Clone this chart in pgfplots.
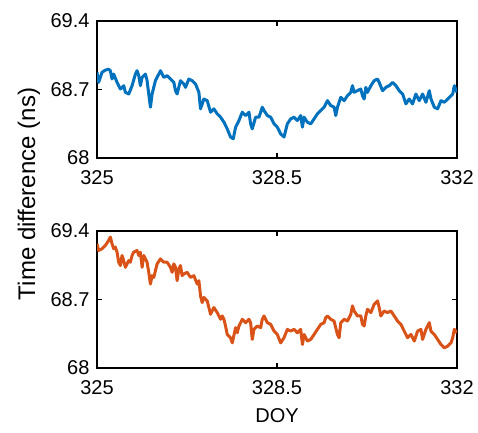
\documentclass[border=0pt]{standalone}
\usepackage{fontspec}
\setmainfont{Liberation Sans}
\usepackage{pgfplots}
\pgfplotsset{compat=1.18}
\definecolor{mblue}{RGB}{0,114,189}
\definecolor{morange}{RGB}{217,83,25}
\pgfplotsset{
  myax/.style={
    scale only axis, width=360pt, height=137pt,
    xmin=325, xmax=332, ymin=68, ymax=69.4,
    xtick={325,328.5,332}, ytick={68,68.7,69.4},
    xticklabels={325,328.5,332}, yticklabels={68,68.7,69.4},
    tick align=inside, major tick length=5pt,
    tick style={black, line width=1.3pt},
    axis line style={black, line width=1.6pt},
    ticklabel style={font=\fontsize{20}{24}\selectfont},
    /pgf/number format/assume math mode=true,
    xticklabel shift=9pt,
    yticklabel shift=4pt,
    clip=true,
  }
}
\begin{document}
\begin{tikzpicture}
\path[use as bounding box] (0,0) rectangle (478pt,432pt);
\begin{axis}[myax, at={(97pt,274pt)}, anchor=south west]
\addplot[mblue, line width=3pt, line join=round] coordinates {
(325.000,68.875)(325.032,68.773)(325.097,68.875)(325.162,68.898)(325.227,68.908)(325.260,68.892)(325.292,68.807)(325.325,68.858)(325.390,68.773)(325.455,68.705)(325.519,68.739)(325.552,68.671)(325.617,68.654)(325.682,68.739)(325.747,68.858)(325.779,68.892)(325.812,68.841)(325.844,68.739)(325.877,68.824)(325.942,68.858)(325.974,68.790)(326.006,68.654)(326.039,68.519)(326.071,68.654)(326.136,68.790)(326.234,68.892)(326.299,68.824)(326.364,68.841)(326.429,68.807)(326.494,68.773)(326.526,68.688)(326.558,68.654)(326.623,68.790)(326.688,68.756)(326.721,68.722)(326.786,68.807)(326.851,68.790)(326.916,68.756)(326.981,68.671)(327.013,68.502)(327.078,68.603)(327.143,68.586)(327.208,68.468)(327.273,68.502)(327.338,68.451)(327.403,68.417)(327.468,68.366)(327.532,68.298)(327.597,68.214)(327.649,68.197)(327.695,68.315)(327.760,68.383)(327.825,68.468)(327.890,68.434)(327.955,68.468)(327.987,68.349)(328.019,68.298)(328.084,68.417)(328.149,68.417)(328.214,68.519)(328.247,68.485)(328.312,68.434)(328.377,68.417)(328.442,68.349)(328.506,68.315)(328.571,68.247)(328.636,68.214)(328.701,68.349)(328.766,68.400)(328.831,68.417)(328.896,68.383)(328.961,68.434)(328.994,68.315)(329.026,68.417)(329.091,68.366)(329.156,68.349)(329.221,68.400)(329.286,68.451)(329.351,68.485)(329.416,68.519)(329.481,68.586)(329.545,68.536)(329.610,68.519)(329.643,68.434)(329.675,68.519)(329.740,68.620)(329.805,68.586)(329.870,68.637)(329.935,68.671)(329.968,68.739)(330.000,68.671)(330.065,68.688)(330.130,68.705)(330.162,68.637)(330.195,68.603)(330.227,68.722)(330.260,68.671)(330.325,68.739)(330.390,68.790)(330.455,68.807)(330.487,68.773)(330.552,68.688)(330.617,68.722)(330.682,68.739)(330.747,68.773)(330.812,68.739)(330.877,68.688)(330.942,68.654)(331.006,68.553)(331.071,68.603)(331.136,68.553)(331.201,68.654)(331.266,68.586)(331.331,68.654)(331.396,68.569)(331.461,68.688)(331.494,68.603)(331.558,68.519)(331.623,68.502)(331.688,68.586)(331.753,68.569)(331.818,68.603)(331.916,68.654)(331.948,68.739)(332.000,68.671)
};
\end{axis}
\begin{axis}[myax, at={(97pt,64pt)}, anchor=south west]
\addplot[morange, line width=3pt, line join=round] coordinates {
(325.000,69.270)(325.032,69.201)(325.097,69.218)(325.162,69.252)(325.227,69.304)(325.260,69.338)(325.292,69.270)(325.325,69.218)(325.357,69.235)(325.390,69.184)(325.422,69.081)(325.455,69.047)(325.487,69.150)(325.519,69.098)(325.552,69.029)(325.617,69.098)(325.649,69.081)(325.682,69.150)(325.714,69.184)(325.779,69.201)(325.812,69.150)(325.844,69.184)(325.877,69.029)(325.909,69.150)(325.942,69.115)(325.974,69.081)(326.006,68.978)(326.039,68.858)(326.071,68.944)(326.104,68.926)(326.169,69.064)(326.234,69.115)(326.299,69.081)(326.364,69.081)(326.429,69.029)(326.461,68.978)(326.494,69.064)(326.526,69.029)(326.558,68.892)(326.591,69.012)(326.623,69.047)(326.656,68.944)(326.688,68.961)(326.753,68.978)(326.818,68.926)(326.883,68.944)(326.948,68.858)(326.981,68.892)(327.013,68.738)(327.045,68.669)(327.078,68.721)(327.143,68.686)(327.208,68.549)(327.273,68.618)(327.338,68.566)(327.403,68.498)(327.435,68.532)(327.468,68.498)(327.500,68.429)(327.532,68.343)(327.597,68.309)(327.630,68.257)(327.695,68.412)(327.727,68.360)(327.760,68.429)(327.825,68.498)(327.890,68.463)(327.955,68.498)(327.987,68.463)(328.019,68.292)(328.052,68.395)(328.117,68.429)(328.182,68.412)(328.214,68.498)(328.247,68.532)(328.312,68.463)(328.377,68.446)(328.442,68.377)(328.506,68.343)(328.571,68.257)(328.636,68.309)(328.701,68.395)(328.766,68.377)(328.831,68.395)(328.896,68.360)(328.961,68.395)(328.994,68.240)(329.026,68.343)(329.091,68.275)(329.156,68.292)(329.221,68.343)(329.286,68.395)(329.351,68.446)(329.416,68.463)(329.448,68.515)(329.481,68.532)(329.545,68.498)(329.610,68.480)(329.675,68.343)(329.708,68.309)(329.740,68.463)(329.805,68.498)(329.870,68.480)(329.935,68.549)(329.968,68.635)(330.000,68.583)(330.065,68.532)(330.130,68.532)(330.162,68.446)(330.195,68.429)(330.227,68.532)(330.260,68.600)(330.325,68.566)(330.390,68.652)(330.455,68.686)(330.487,68.618)(330.519,68.532)(330.584,68.583)(330.649,68.566)(330.714,68.583)(330.779,68.532)(330.844,68.480)(330.909,68.446)(330.974,68.377)(331.039,68.309)(331.104,68.343)(331.169,68.275)(331.234,68.377)(331.299,68.395)(331.331,68.292)(331.396,68.395)(331.461,68.463)(331.494,68.377)(331.558,68.343)(331.623,68.292)(331.688,68.240)(331.753,68.206)(331.818,68.223)(331.883,68.257)(331.916,68.309)(331.948,68.395)(332.000,68.360)
};
\end{axis}
\node[rotate=90, font=\fontsize{24}{28}\selectfont] at (29pt,238pt) {Time difference (ns)};
\node[font=\fontsize{20}{24}\selectfont] at (277pt,16pt) {DOY};
\end{tikzpicture}
\end{document}
